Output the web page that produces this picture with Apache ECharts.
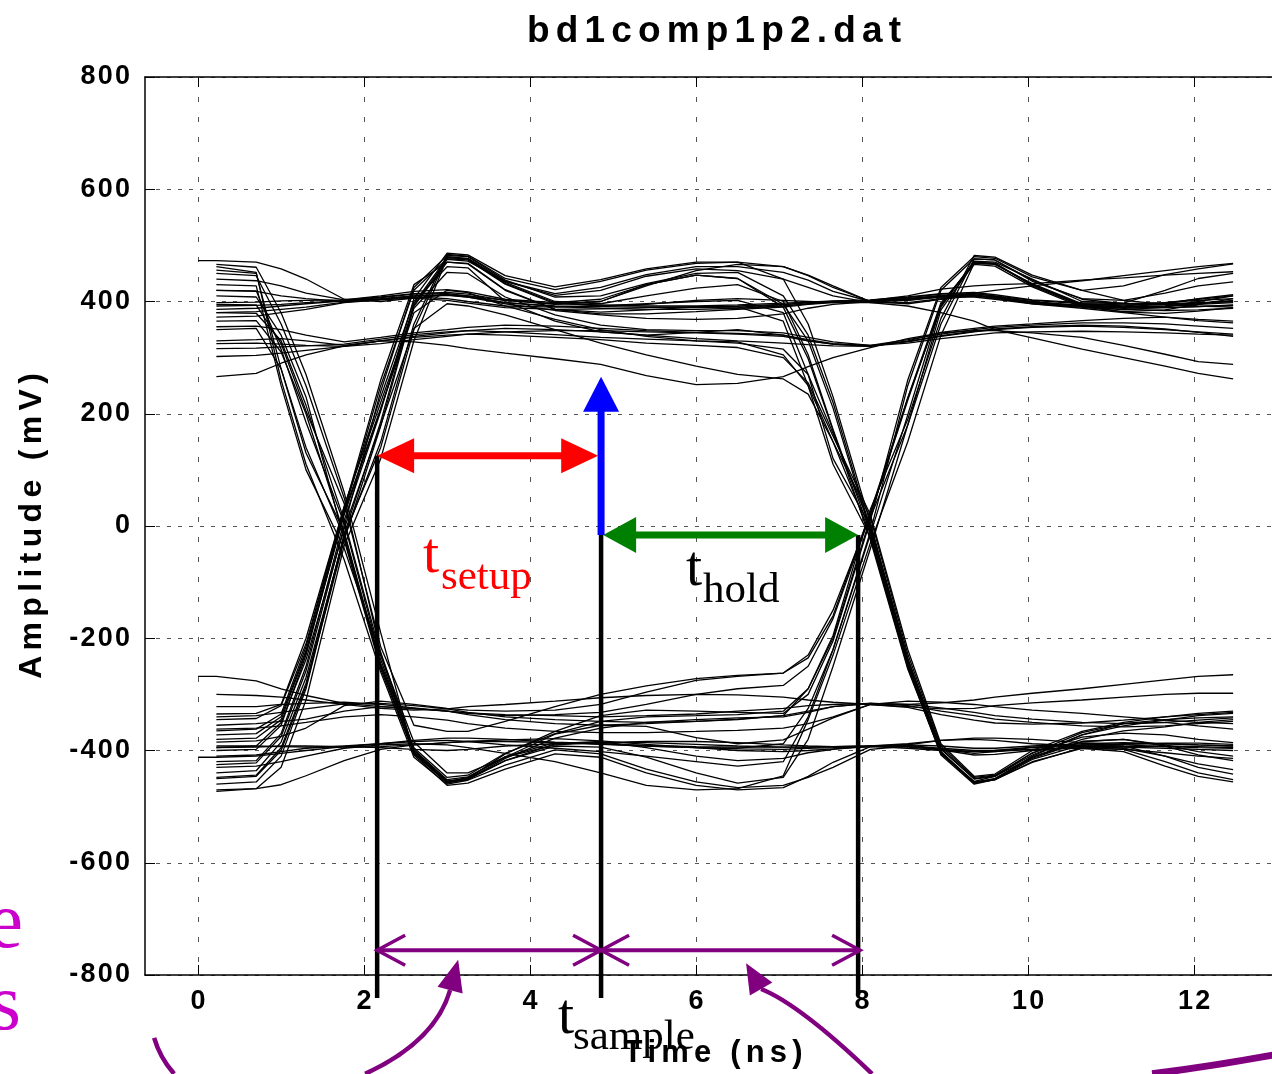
<!DOCTYPE html>
<html>
<head>
<meta charset="utf-8">
<title>bd1comp1p2.dat</title>
<script src="https://cdn.jsdelivr.net/npm/echarts@6.0.0/dist/echarts.min.js"></script>
<style>
    html, body { margin: 0; padding: 0; background: #fff; }
    #eye_chart { width: 1272px; height: 1074px; }
</style>
</head>
<body>
<div id="eye_chart"></div>
<script>
// 采样时间点 (ns)，所有轨迹共用
var timeNs = [0, 0.22, 0.7, 1.0, 1.3, 1.76, 2.2, 2.6, 3.0, 3.25, 3.7, 4.3, 4.85, 5.4, 6.0, 6.5, 7.05, 7.35, 7.65, 8.1, 8.55, 8.95, 9.35, 9.6, 10.05, 10.65, 11.15, 11.65, 12.05, 12.47];

// 眼图轨迹 (mV)
var trace01 = [473, 473, 470, 458, 440, 404, 400, 406, 412, 410, 402, 395, 400, 428, 455, 466, 462, 447, 428, 400, 396, 404, 410, 408, 400, 392, 388, 389, 391, 394];
var trace02 = [null, 386, 388, 392, 396, 401, 407, 413, 414, 410, 398, 391, 388, 386, 386, 388, 392, 396, 399, 402, 407, 413, 414, 409, 399, 393, 390, 389, 391, 393];
var trace03 = [null, 302, 304, 308, 313, 320, 330, 338, 344, 348, 352, 350, 346, 340, 334, 330, 326, 323, 321, 320, 329, 339, 347, 351, 355, 358, 356, 351, 345, 338];
var trace04 = [null, 266, 272, 290, 305, 321, 330, 328, 322, 316, 308, 298, 288, 268, 252, 254, 266, 284, 300, 318, 334, 344, 348, 348, 344, 336, 322, 306, 293, 288];
var trace05 = [null, 440, 437, 428, 415, 403, 410, 418, 421, 417, 404, 398, 404, 430, 447, 441, 395, 330, 210, -10, -250, -405, -457, -452, -420, -396, -402, -428, -446, -456];
var trace06 = [null, 372, 374, 380, 386, 398, 403, 406, 402, 397, 389, 386, 387, 389, 391, 391, 365, 250, 110, -20, -252, -408, -460, -452, -410, -372, -352, -345, -342, -340];
var trace07 = [null, 316, 317, 319, 321, 324, 333, 341, 346, 348, 346, 341, 336, 333, 330, 328, 305, 250, 150, 15, -228, -392, -448, -444, -404, -376, -369, -372, -380, -386];
var trace08 = [null, 462, 452, 260, 110, -60, -260, -412, -460, -453, -426, -399, -406, -433, -456, -466, -462, -448, -430, -398, -392, -399, -408, -407, -400, -393, -389, -387, -387, -389];
var trace09 = [null, 450, 446, 360, 250, 50, -225, -398, -452, -447, -412, -371, -355, -357, -377, -388, -381, -362, -342, -318, -323, -336, -346, -351, -353, -351, -346, -340, -336, -332];
var trace10 = [null, 420, 419, 315, 185, 5, -238, -400, -454, -450, -406, -366, -338, -328, -330, -332, -334, -300, -205, 10, 260, 425, 480, 477, 444, 420, 428, 448, 458, 467];
var trace11 = [null, 395, 394, 325, 205, 40, -215, -355, -366, -366, -348, -322, -300, -285, -272, -266, -262, -235, -160, 25, 228, 390, 472, 470, 440, 400, 397, 420, 441, 450];
var trace12 = [null, 466, 461, 380, 270, 60, -190, -408, -462, -458, -433, -406, -412, -440, -462, -470, -466, -446, -421, -393, -390, -398, -405, -402, -395, -392, -396, -410, -424, -434];
var trace13 = [null, 350, 352, 280, 140, -20, -250, -404, -456, -448, -411, -386, -389, -392, -395, -396, -388, -325, -220, -15, 198, 392, 470, 468, 430, 393, 381, 379, 383, 389];
var trace14 = [null, -473, -468, -461, -445, -418, -398, -390, -386, -384, -381, -379, -383, -389, -395, -400, -402, -400, -397, -393, -392, -396, -400, -400, -398, -395, -393, -392, -393, -395];
var trace15 = [-268, -268, -276, -290, -302, -316, -322, -326, -330, -333, -336, -338, -340, -338, -335, -330, -325, -320, -318, -316, -318, -315, -310, -305, -298, -290, -282, -274, -268, -265];
var trace16 = [-412, -412, -410, -405, -400, -393, -388, -382, -378, -378, -380, -385, -388, -392, -395, -397, -398, -396, -395, -393, -390, -382, -378, -378, -380, -386, -390, -393, -395, -396];
var trace17 = [null, -355, -352, -348, -344, -330, -322, -325, -330, -336, -345, -352, -355, -352, -348, -345, -338, -290, -195, 30, 190, 370, 482, 479, 447, 420, 402, 395, 392, 390];
var trace18 = [null, -430, -428, -420, -410, -396, -390, -388, -390, -395, -405, -420, -440, -462, -470, -468, -445, -345, -230, -30, 150, 340, 468, 466, 432, 396, 392, 398, 402, 405];
var trace19 = [null, -385, -383, -375, -360, -320, -312, -318, -325, -328, -330, -328, -318, -296, -275, -268, -262, -230, -150, 20, 228, 398, 466, 463, 426, 390, 382, 385, 395, 405];
var trace20 = [null, -300, -302, -305, -310, -318, -325, -328, -326, -322, -318, -312, -306, -302, -300, -301, -305, -310, -314, -318, -322, -326, -325, -320, -315, -310, -305, -300, -298, -298];
var trace21 = [null, -440, -436, -385, -270, -20, 150, 360, 484, 481, 441, 421, 436, 456, 468, 470, 462, 446, 425, 400, 402, 408, 410, 406, 398, 392, 390, 392, 395, 398];
var trace22 = [null, -420, -418, -370, -250, 10, 205, 405, 486, 483, 446, 426, 439, 458, 470, 470, 440, 360, 230, 5, -236, -402, -458, -452, -421, -395, -398, -420, -440, -452];
var trace23 = [null, -400, -398, -355, -230, 25, 250, 420, 476, 474, 431, 396, 400, 430, 447, 441, 390, 298, 170, -25, -255, -406, -455, -446, -405, -368, -352, -350, -356, -362];
var trace24 = [null, -365, -362, -335, -215, 30, 260, 430, 470, 468, 421, 386, 381, 385, 390, 392, 395, 398, 400, 402, 410, 422, 428, 430, 432, 438, 442, 447, 450, 453];
var trace25 = [null, -335, -334, -318, -200, 35, 230, 400, 462, 460, 400, 365, 346, 340, 345, 350, 340, 330, 324, 320, 330, 345, 352, 356, 360, 366, 370, 372, 368, 365];
var trace26 = [null, -395, -392, -350, -238, -5, 180, 352, 396, 392, 376, 350, 326, 305, 285, 270, 262, 235, 150, -15, -245, -398, -451, -446, -412, -380, -365, -358, -350, -345];
var trace27 = [null, -470, -468, -430, -310, -35, 120, 330, 478, 476, 432, 398, 392, 395, 402, 405, 402, 400, 398, 398, 392, 380, 365, 350, 335, 315, 300, 285, 272, 262];
var trace28 = [null, -450, -446, -400, -285, -25, 178, 392, 475, 472, 436, 411, 420, 445, 458, 455, 440, 425, 410, 398, 398, 405, 415, 420, 428, 437, 446, 455, 462, 468];
var trace29 = [null, 398, 399, 401, 402, 403, 408, 414, 416, 413, 402, 396, 394, 392, 392, 394, 397, 399, 401, 403, 408, 414, 416, 412, 403, 398, 396, 396, 398, 400];
var trace30 = [null, 355, 356, 350, 340, 328, 336, 344, 350, 354, 358, 356, 352, 348, 345, 343, 340, 332, 325, 322, 332, 342, 350, 354, 358, 362, 362, 360, 356, 352];
var trace31 = [null, 420, 418, 410, 405, 400, 404, 410, 412, 408, 396, 384, 376, 370, 368, 370, 378, 388, 395, 400, 405, 411, 412, 407, 396, 388, 380, 372, 366, 362];
var trace32 = [null, 380, 382, 386, 390, 399, 404, 408, 405, 400, 392, 390, 392, 396, 400, 402, 380, 270, 120, 0, -240, -404, -458, -450, -412, -384, -380, -390, -402, -410];
var trace33 = [null, 330, 332, 334, 330, 322, 330, 336, 340, 342, 340, 336, 332, 326, 322, 318, 300, 255, 160, 20, -220, -388, -446, -442, -400, -366, -350, -340, -334, -330];
var trace34 = [null, 456, 450, 280, 130, -10, -248, -404, -457, -450, -418, -388, -384, -395, -410, -418, -414, -404, -398, -392, -390, -392, -396, -396, -392, -388, -386, -388, -390, -392];
var trace35 = [null, 410, 408, 340, 230, -25, -255, -406, -458, -451, -414, -378, -360, -350, -345, -342, -340, -332, -322, -316, -320, -330, -338, -344, -350, -356, -358, -356, -352, -348];
var trace36 = [null, 380, 379, 330, 215, 10, -230, -385, -440, -440, -412, -390, -386, -386, -389, -392, -394, -394, -393, -392, -394, -398, -402, -402, -398, -396, -398, -404, -410, -414];
var trace37 = [null, 430, 428, 250, 100, -40, -230, -402, -456, -452, -418, -392, -394, -412, -440, -458, -448, -380, -250, -40, 180, 385, 468, 467, 430, 395, 390, 396, 405, 412];
var trace38 = [null, 365, 366, 310, 200, -15, -245, -395, -448, -444, -405, -370, -348, -340, -338, -336, -330, -290, -200, 15, 180, 360, 476, 474, 436, 405, 402, 415, 428, 435];
var trace39 = [null, -395, -394, -392, -392, -393, -395, -398, -400, -398, -392, -388, -386, -384, -384, -386, -390, -392, -393, -393, -396, -400, -402, -400, -394, -390, -388, -388, -390, -392];
var trace40 = [null, -340, -338, -332, -326, -317, -316, -320, -326, -332, -340, -345, -348, -350, -348, -344, -338, -330, -322, -316, -318, -324, -332, -338, -344, -350, -352, -350, -346, -342];
var trace41 = [null, -362, -360, -356, -350, -340, -336, -340, -346, -352, -360, -366, -368, -368, -366, -364, -360, -352, -340, -318, -312, -314, -318, -322, -328, -334, -340, -346, -350, -352];
var trace42 = [null, -410, -408, -402, -396, -392, -388, -384, -382, -384, -390, -396, -402, -410, -420, -428, -420, -340, -220, -10, 250, 420, 476, 474, 438, 404, 396, 398, 404, 410];
var trace43 = [null, -322, -322, -318, -316, -314, -318, -324, -330, -334, -338, -336, -332, -318, -300, -290, -284, -250, -165, 20, 224, 395, 470, 468, 428, 392, 385, 390, 400, 410];
var trace44 = [null, -460, -456, -410, -290, -15, 140, 350, 480, 477, 436, 414, 425, 448, 462, 462, 452, 438, 418, 400, 402, 410, 414, 410, 402, 396, 394, 395, 397, 400];
var trace45 = [null, -380, -378, -345, -225, 20, 208, 392, 470, 467, 420, 386, 378, 378, 382, 386, 390, 395, 398, 400, 404, 408, 408, 404, 396, 390, 386, 384, 385, 388];
var trace46 = [null, -345, -343, -320, -210, 35, 220, 388, 452, 450, 408, 376, 358, 350, 348, 348, 344, 336, 328, 322, 328, 338, 346, 350, 354, 356, 354, 350, 346, 342];
var trace47 = [null, -425, -422, -375, -258, 0, 240, 425, 482, 480, 438, 408, 410, 432, 450, 452, 410, 340, 220, -5, -240, -402, -456, -450, -414, -384, -380, -392, -408, -418];
var trace48 = [null, -372, -370, -340, -222, 25, 210, 380, 420, 416, 392, 368, 350, 338, 330, 326, 315, 270, 165, 0, -236, -396, -450, -445, -408, -372, -356, -346, -338, -334];
var trace49 = [null, -448, -444, -395, -280, -15, 186, 396, 478, 476, 434, 400, 396, 410, 424, 430, 400, 305, 172, -12, -248, -404, -458, -452, -416, -390, -392, -410, -430, -442];
var trace50 = [null, 392, 393, 395, 398, 401, 405, 410, 411, 408, 398, 392, 391, 390, 389, 390, 394, 398, 400, 401, 405, 410, 411, 406, 397, 392, 390, 392, 396, 402];
var trace51 = [null, -392, -392, -393, -394, -394, -393, -390, -386, -384, -384, -386, -388, -391, -393, -394, -394, -394, -393, -392, -388, -382, -380, -382, -388, -392, -394, -396, -398, -400];
var trace52 = [null, 325, 326, 324, 322, 320, 325, 332, 338, 342, 346, 348, 348, 346, 344, 342, 338, 330, 324, 321, 326, 334, 340, 344, 346, 347, 346, 344, 342, 340];

var traceList = [trace01, trace02, trace03, trace04, trace05, trace06, trace07, trace08, trace09, trace10,
    trace11, trace12, trace13, trace14, trace15, trace16, trace17, trace18, trace19, trace20,
    trace21, trace22, trace23, trace24, trace25, trace26, trace27, trace28, trace29, trace30,
    trace31, trace32, trace33, trace34, trace35, trace36, trace37, trace38, trace39, trace40,
    trace41, trace42, trace43, trace44, trace45, trace46, trace47, trace48, trace49, trace50,
    trace51, trace52];

// 坐标轴刻度
var xTicks = [0, 2, 4, 6, 8, 10, 12];

// 标注 (ns, mV)
var sampleMarkers = [[2.157, 125, 2.157, -841], [4.855, -16, 4.855, -841], [7.952, -16, 7.952, -836]];
var setupArrow = [2.157, 125, 4.82, 125];
var holdArrow = [4.88, -16, 7.952, -16];
var sampleArrow = [4.855, -16, 4.855, 266];
var windowArrows = [[2.157, -756, 4.855, -756], [4.855, -756, 7.976, -756]];
var calloutCurves = [[2.012, -976, 2.855, -919, 3.036, -827, 3.133, -773], [8.12, -976, 7.253, -853, 6.783, -825, 6.602, -779]];
var calloutLines = [[-0.53, -912, -0.458, -948, -0.289, -976, 4.5], [11.494, -976, 12.3, -961, 13.157, -937, 7]];

var labelFont = '"Liberation Sans", Arial, sans-serif';
var serifFont = '"Liberation Serif", "Times New Roman", serif';

function spaced(text, gap) {
    return String(text).split('').join(gap || '\u2006');
}

function arrowRender(cfg) {
    return function (params, api) {
        var a = api.coord([api.value(0), api.value(1)]);
        var b = api.coord([api.value(2), api.value(3)]);
        var dx = b[0] - a[0], dy = b[1] - a[1];
        var len = Math.sqrt(dx * dx + dy * dy);
        var ux = dx / len, uy = dy / len, px = -uy, py = ux;
        var children = [];
        var cut = cfg.open ? 0 : cfg.len * 0.5;
        var s0 = cfg.heads === 'both' ? [a[0] + ux * cut, a[1] + uy * cut] : a;
        var s1 = [b[0] - ux * cut, b[1] - uy * cut];
        children.push({
            type: 'line',
            shape: {x1: s0[0], y1: s0[1], x2: s1[0], y2: s1[1]},
            style: {stroke: cfg.color, lineWidth: cfg.width}
        });
        var tips = cfg.heads === 'both' ? [[a, -1], [b, 1]] : [[b, 1]];
        tips.forEach(function (item) {
            var t = item[0], s = item[1];
            var bx = t[0] - s * ux * cfg.len, by = t[1] - s * uy * cfg.len;
            var p1 = [bx + px * cfg.half, by + py * cfg.half];
            var p2 = [bx - px * cfg.half, by - py * cfg.half];
            if (cfg.open) {
                children.push({
                    type: 'polyline',
                    shape: {points: [p1, t, p2]},
                    style: {stroke: cfg.color, lineWidth: cfg.headWidth, fill: null}
                });
            } else {
                children.push({
                    type: 'polygon',
                    shape: {points: [t, p1, p2]},
                    style: {fill: cfg.color}
                });
            }
        });
        return {type: 'group', children: children};
    };
}

function curveRender(withHead) {
    return function (params, api) {
        var p0 = api.coord([api.value(0), api.value(1)]);
        var cp = api.coord([api.value(2), api.value(3)]);
        var p1 = api.coord([api.value(4), api.value(5)]);
        var width = withHead ? 4.5 : api.value(6);
        var children = [{
            type: 'bezierCurve',
            shape: {x1: p0[0], y1: p0[1], x2: p1[0], y2: p1[1], cpx1: cp[0], cpy1: cp[1]},
            style: {stroke: '#800080', lineWidth: width, fill: null}
        }];
        if (withHead) {
            var tip = api.coord([api.value(6), api.value(7)]);
            var dx = tip[0] - p1[0], dy = tip[1] - p1[1];
            var len = Math.sqrt(dx * dx + dy * dy);
            var px = -dy / len * 13, py = dx / len * 13;
            children.push({
                type: 'polygon',
                shape: {points: [tip, [p1[0] + px, p1[1] + py], [p1[0] - px, p1[1] - py]]},
                style: {fill: '#800080'}
            });
        }
        return {type: 'group', children: children};
    };
}

function segmentRender(params, api) {
    var a = api.coord([api.value(0), api.value(1)]);
    var b = api.coord([api.value(2), api.value(3)]);
    return {
        type: 'line',
        shape: {x1: a[0], y1: a[1], x2: b[0], y2: b[1]},
        style: {stroke: '#000', lineWidth: 4.5}
    };
}

function init() {
    var series = [];
    traceList.forEach(function (trace, k) {
        var points = [];
        for (var i = 0; i < timeNs.length; i++) {
            if (trace[i] != null) {
                points.push([timeNs[i], trace[i]]);
            }
        }
        series.push({
            name: 'trace' + (k + 1),
            type: 'line',
            data: points,
            symbol: 'none',
            silent: true,
            z: 2,
            lineStyle: {color: '#000', width: 1.3}
        });
    });

    series.push({type: 'custom', name: 'markers', silent: true, z: 5, clip: false,
        renderItem: segmentRender, data: sampleMarkers});
    series.push({type: 'custom', name: 'setup', silent: true, z: 6, clip: false,
        renderItem: arrowRender({color: '#ff0000', width: 7, len: 37, half: 17.5, heads: 'both'}),
        data: [setupArrow]});
    series.push({type: 'custom', name: 'hold', silent: true, z: 6, clip: false,
        renderItem: arrowRender({color: '#008000', width: 7, len: 33, half: 18, heads: 'both'}),
        data: [holdArrow]});
    series.push({type: 'custom', name: 'sample', silent: true, z: 6, clip: false,
        renderItem: arrowRender({color: '#0000ff', width: 7, len: 35, half: 18, heads: 'end'}),
        data: [sampleArrow]});
    series.push({type: 'custom', name: 'window', silent: true, z: 6, clip: false,
        renderItem: arrowRender({color: '#800080', width: 4, len: 28, half: 15, heads: 'both', open: true, headWidth: 3.5}),
        data: windowArrows});
    series.push({type: 'custom', name: 'callout', silent: true, z: 6, clip: false,
        renderItem: curveRender(true), data: calloutCurves});
    series.push({type: 'custom', name: 'calloutLine', silent: true, z: 6, clip: false,
        renderItem: curveRender(false), data: calloutLines});

    var eye_option = {
        animation: false,
        backgroundColor: '#fff',
        title: {
            text: spaced('bd1comp1p2.dat'),
            left: 709,
            top: 8,
            textAlign: 'center',
            textStyle: {fontFamily: labelFont, fontWeight: 'bold', fontSize: 37, color: '#000'}
        },
        grid: {
            left: 145,
            top: 77,
            width: 1173.6,
            height: 898,
            containLabel: false,
            outerBoundsMode: 'none'
        },
        xAxis: [
            {
                type: 'value',
                min: -0.64,
                max: 13.5,
                position: 'bottom',
                axisLine: {show: true, onZero: false, lineStyle: {color: '#000', width: 1.5}},
                axisTick: {show: true, inside: true, length: 10, customValues: xTicks, lineStyle: {color: '#000'}},
                axisLabel: {
                    customValues: xTicks,
                    margin: 13,
                    color: '#000',
                    fontFamily: labelFont,
                    fontWeight: 'bold',
                    fontSize: 27,
                    formatter: function (v) { return spaced(v, '\u200A'); }
                },
                splitLine: {show: true, lineStyle: {color: '#555', width: 1, type: [5, 15]}}
            },
            {
                type: 'value',
                min: -0.64,
                max: 13.5,
                position: 'top',
                axisLine: {show: true, onZero: false, lineStyle: {color: '#000', width: 1.5}},
                axisTick: {show: true, inside: true, length: 10, customValues: xTicks, lineStyle: {color: '#000'}},
                axisLabel: {show: false},
                splitLine: {show: false}
            }
        ],
        yAxis: {
            type: 'value',
            min: -800,
            max: 800,
            interval: 200,
            name: spaced('Amplitude (mV)'),
            nameLocation: 'middle',
            nameGap: 97,
            nameTextStyle: {fontFamily: labelFont, fontWeight: 'bold', fontSize: 32, color: '#000'},
            axisLine: {show: true, onZero: false, lineStyle: {color: '#000', width: 1.5}},
            axisTick: {show: true, inside: true, length: 10, lineStyle: {color: '#000'}},
            axisLabel: {
                margin: 15,
                color: '#000',
                fontFamily: labelFont,
                fontWeight: 'bold',
                fontSize: 27,
                formatter: function (v) { return spaced(v, '\u200A'); }
            },
            splitLine: {show: true, lineStyle: {color: '#555', width: 1, type: [4, 7]}}
        },
        graphic: [
            {type: 'text', x: 713, y: 1053, z: 20, style: {text: spaced('Time (ns)'), fill: '#000', font: 'bold 31px ' + labelFont, align: 'center', verticalAlign: 'middle'}},
            {type: 'text', x: 423, y: 557, z: 20, style: {text: 't', fill: '#ff0000', font: '58px ' + serifFont, align: 'left', verticalAlign: 'middle'}},
            {type: 'text', x: 441, y: 578, z: 20, style: {text: 'setup', fill: '#ff0000', font: '43px ' + serifFont, align: 'left', verticalAlign: 'middle'}},
            {type: 'text', x: 686, y: 570, z: 20, style: {text: 't', fill: '#000', font: '58px ' + serifFont, align: 'left', verticalAlign: 'middle'}},
            {type: 'text', x: 703, y: 591, z: 20, style: {text: 'hold', fill: '#000', font: '43px ' + serifFont, align: 'left', verticalAlign: 'middle'}},
            {type: 'text', x: 558, y: 1018, z: 20, style: {text: 't', fill: '#000', font: '58px ' + serifFont, align: 'left', verticalAlign: 'middle'}},
            {type: 'text', x: 573, y: 1038, z: 20, style: {text: 'sample', fill: '#000', font: '43px ' + serifFont, align: 'left', verticalAlign: 'middle'}},
            {type: 'text', x: 23, y: 926, z: 20, style: {text: 'e', fill: '#cc00cc', font: '80px ' + serifFont, align: 'right', verticalAlign: 'middle'}},
            {type: 'text', x: 21, y: 1008, z: 20, style: {text: 's', fill: '#cc00cc', font: '80px ' + serifFont, align: 'right', verticalAlign: 'middle'}}
        ],
        series: series
    };

    var eye_chart = echarts.init(document.getElementById('eye_chart'));
    eye_chart.setOption(eye_option);
}

init();
</script>
</body>
</html>
